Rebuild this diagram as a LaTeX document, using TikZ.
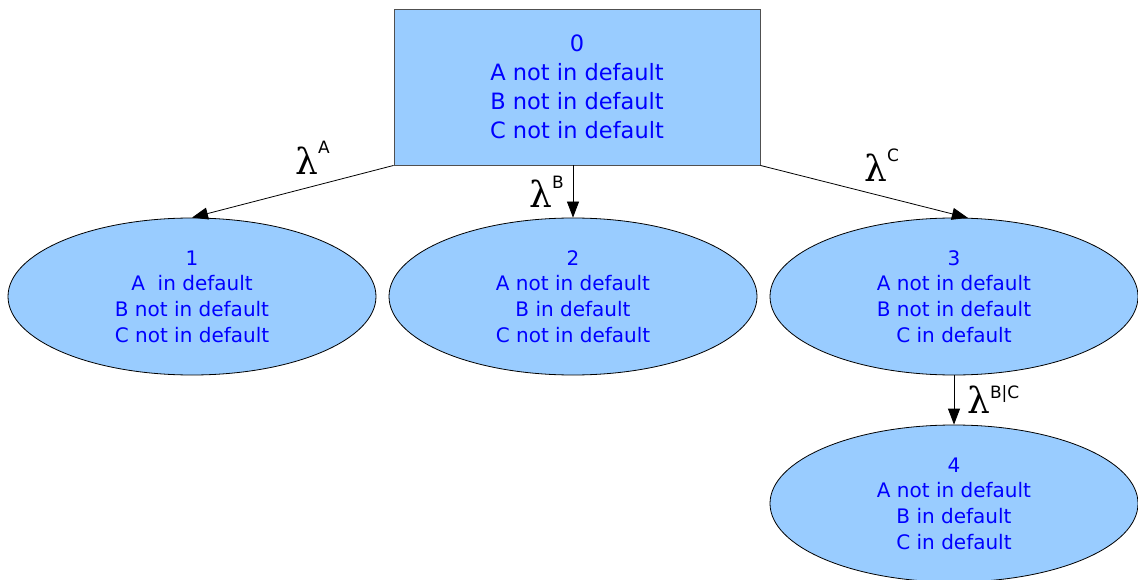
\documentclass[tikz,border=0pt]{standalone}
\usepackage{fontspec}
\setmainfont{DejaVu Sans}
\newfontfamily\lamfont{DejaVu Serif}
\usetikzlibrary{shapes.geometric,arrows.meta,calc}
\definecolor{nodefill}{HTML}{99CCFF}
\definecolor{nodetext}{HTML}{0000FF}
\definecolor{rectborder}{HTML}{505050}
\newcommand{\lamlab}[3]{{\lamfont\fontsize{36}{36}\selectfont λ}\kern#3\raisebox{#2}{\fontsize{17}{17}\selectfont #1}}
\tikzset{
  statebox/.style={rectangle, draw=rectborder, fill=nodefill, line width=0.9pt,
    minimum width=366pt, minimum height=156pt, inner sep=0pt, align=center,
    text=nodetext, font=\fontsize{22.5}{29}\selectfont},
  stateell/.style={ellipse, draw=black, fill=nodefill, line width=0.8pt,
    minimum width=368pt, minimum height=157pt, inner sep=0pt, align=center,
    text=nodetext, font=\fontsize{20}{25.7}\selectfont},
  arr/.style={draw=black, line width=0.8pt, -{Triangle[length=16pt,width=12pt]}},
  lamnode/.style={anchor=base west, inner sep=0pt, text=black}
}
\begin{document}
\begin{tikzpicture}[x=1pt,y=-1pt]
\useasboundingbox (0,0) rectangle (1138,580);
\node[statebox] (r) at (577,87) {0\\A not in default\\B not in default\\C not in default};
\node[stateell] (e1) at (192,296.5) {1\\A\ \ in default\\B not in default\\C not in default};
\node[stateell] (e2) at (573,296.5) {2\\A not in default\\B in default\\C not in default};
\node[stateell] (e3) at (954,296.5) {3\\A not in default\\B not in default\\C in default};
\node[stateell] (e4) at (954,503.5) {4\\A not in default\\B in default\\C in default};
\draw[arr] (r.south west) -- (e1.north);
\draw[arr] (e2.north |- r.south) -- (e2.north);
\draw[arr] (r.south east) -- (e3.80);
\draw[arr] (e3.south) -- (e4.north);
\node[lamnode] (la) at (295,175) {\lamlab{A}{21pt}{0pt}};
\node[lamnode] (lb) at (529,208) {\lamlab{B}{20pt}{0pt}};
\node[lamnode] (lc) at (864,182) {\lamlab{C}{20pt}{0pt}};
\node[lamnode] (lbc) at (967,413) {\lamlab{B|C}{15pt}{0pt}};
\end{tikzpicture}
\end{document}
